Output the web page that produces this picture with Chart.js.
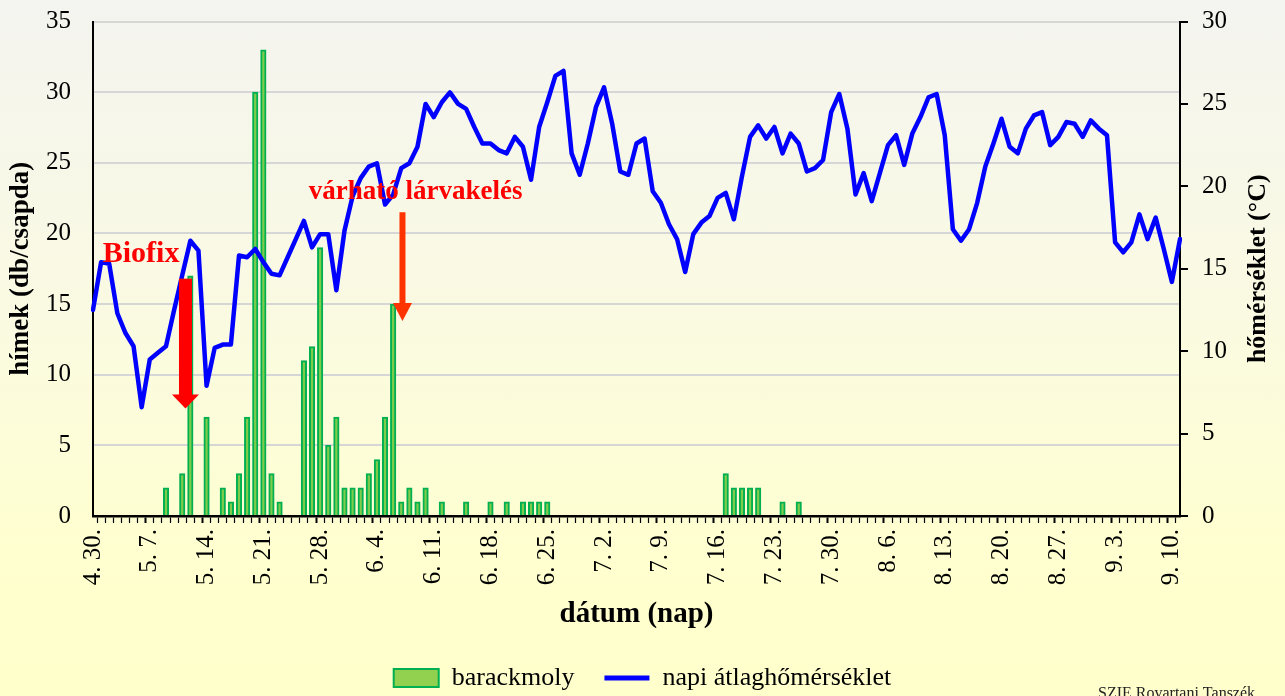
<!DOCTYPE html>
<html lang="hu">
<head>
<meta charset="UTF-8">
<title>Barackmoly rajzás</title>
<script src="https://cdn.jsdelivr.net/npm/chart.js"></script>
<style>
    html, body {
        margin: 0;
        padding: 0;
    }

    body {
        width: 1285px;
        height: 696px;
        overflow: hidden;
        background: linear-gradient(to bottom, #f4f4f0 0%, #fafae2 45%, #ffffcf 80%, #ffffcc 100%);
    }

    #chart-container {
        width: 1285px;
        height: 696px;
    }
</style>
</head>
<body>
<div id="chart-container">
    <canvas id="chart"></canvas>
</div>

<script>
    // napok 4.30. - 9.11.
    const monthRanges = [[4, 30, 30], [5, 1, 31], [6, 1, 30], [7, 1, 31], [8, 1, 31], [9, 1, 11]];
    const dates = [];
    monthRanges.forEach(([m, from, to]) => {
        for (let d = from; d <= to; d++) dates.push(m + '. ' + d + '.');
    });

    // barackmoly fogások (csak a nem nulla napok)
    const catchDates = ['5. 9.', '5. 11.', '5. 12.', '5. 14.', '5. 16.', '5. 17.', '5. 18.', '5. 19.', '5. 20.', '5. 21.',
        '5. 22.', '5. 23.', '5. 26.', '5. 27.', '5. 28.', '5. 29.', '5. 30.', '5. 31.', '6. 1.', '6. 2.',
        '6. 3.', '6. 4.', '6. 5.', '6. 6.', '6. 7.', '6. 8.', '6. 9.', '6. 10.', '6. 12.', '6. 15.',
        '6. 18.', '6. 20.', '6. 22.', '6. 23.', '6. 24.', '6. 25.',
        '7. 17.', '7. 18.', '7. 19.', '7. 20.', '7. 21.', '7. 24.', '7. 26.'];
    const catchCounts = [2, 3, 17, 7, 2, 1, 3, 7, 30, 33,
        3, 1, 11, 12, 19, 5, 7, 2, 2, 2,
        3, 4, 7, 15, 1, 2, 1, 2, 1, 1,
        1, 1, 1, 1, 1, 1,
        3, 2, 2, 2, 2, 1, 1];

    // napi átlaghőmérséklet (°C), 4.30. - 9.11.
    const temps = [12.5, 15.4, 15.3, 12.3, 11.1, 10.3, 6.6, 9.5, 9.9, 10.3,
        12.5, 14.6, 16.7, 16.1, 7.9, 10.2, 10.4, 10.4, 15.8, 15.7,
        16.2, 15.4, 14.7, 14.6, 15.7, 16.8, 17.9, 16.3, 17.1, 17.1,
        13.7, 17.3, 19.4, 20.5, 21.2, 21.4, 18.9, 19.5, 21.1, 21.4,
        22.4, 25.0, 24.2, 25.1, 25.7, 25.0, 24.7, 23.6, 22.6, 22.6,
        22.2, 22.0, 23.0, 22.4, 20.4, 23.6, 25.1, 26.7, 27.0, 22.0,
        20.7, 22.6, 24.8, 26.0, 23.8, 20.9, 20.7, 22.6, 22.9, 19.7,
        19.0, 17.7, 16.8, 14.8, 17.1, 17.8, 18.2, 19.3, 19.6, 18.0,
        20.6, 23.0, 23.7, 22.9, 23.6, 22.0, 23.2, 22.6, 20.9, 21.1,
        21.6, 24.5, 25.6, 23.5, 19.5, 20.8, 19.1, 20.8, 22.5, 23.1,
        21.3, 23.2, 24.2, 25.4, 25.6, 23.1, 17.4, 16.7, 17.4, 19.0,
        21.2, 22.6, 24.1, 22.4, 22.0, 23.5, 24.3, 24.5, 22.5, 23.0,
        23.9, 23.8, 23.0, 24.0, 23.5, 23.1, 16.6, 16.0, 16.6, 18.3,
        16.8, 18.1, 16.2, 14.2, 16.8];

    const serif = '"Liberation Serif", "Times New Roman", serif';
    Chart.defaults.font.family = serif;
    Chart.defaults.color = '#000';

    // nyíl rajzolása (függőleges, lefelé mutat)
    function drawArrow(ctx, cx, yTop, yTip, shaftW, headW, headH, color) {
        ctx.fillStyle = color;
        ctx.fillRect(cx - shaftW / 2, yTop, shaftW, yTip - headH - yTop + 1);
        ctx.beginPath();
        ctx.moveTo(cx - headW / 2, yTip - headH);
        ctx.lineTo(cx + headW / 2, yTip - headH);
        ctx.lineTo(cx, yTip);
        ctx.closePath();
        ctx.fill();
    }

    // feliratok, nyilak, jobb oldali tengelycím
    const notes = {
        id: 'notes',
        afterDatasetsDraw(chart) {
            const {ctx, chartArea} = chart;
            const x = chart.scales.x, y = chart.scales.y;
            ctx.save();

            drawArrow(ctx, x.getPixelForValue(11.4), y.getPixelForValue(16.8), y.getPixelForValue(7.6), 13, 27, 14, '#ff0000');
            drawArrow(ctx, x.getPixelForValue(38.15), y.getPixelForValue(21.5), y.getPixelForValue(13.8), 6, 19, 18, '#ff3300');

            ctx.fillStyle = '#ff0000';
            ctx.textBaseline = 'alphabetic';
            ctx.textAlign = 'left';
            ctx.font = 'bold 30px ' + serif;
            ctx.fillText('Biofix', x.getPixelForValue(1.2), y.getPixelForValue(17.96));
            ctx.font = 'bold 27px ' + serif;
            ctx.fillText('várható lárvakelés', x.getPixelForValue(26.6), y.getPixelForValue(22.46));

            // jobb tengely címe, alulról felfelé olvasva
            ctx.fillStyle = '#000';
            ctx.font = 'bold 26px ' + serif;
            ctx.translate(chartArea.right + 78, (chartArea.top + chartArea.bottom) / 2);
            ctx.rotate(-Math.PI / 2);
            ctx.textAlign = 'center';
            ctx.textBaseline = 'middle';
            ctx.fillText('hőmérséklet (°C)', 0, 0);
            ctx.restore();

            ctx.save();
            ctx.fillStyle = '#222';
            ctx.font = '16px ' + serif;
            ctx.textBaseline = 'top';
            ctx.fillText('SZIE Rovartani Tanszék', 1098, 686);
            ctx.restore();
        }
    };

    const ctx = document.getElementById('chart').getContext('2d');
    new Chart(ctx, {
        data: {
            labels: dates,
            datasets: [{
                type: 'bar',
                label: 'barackmoly',
                data: catchDates.map((d, i) => ({x: d, y: catchCounts[i]})),
                backgroundColor: '#7fcc4c',
                borderColor: '#00b050',
                borderWidth: 2,
                barThickness: 5.5,
                yAxisID: 'y',
                order: 2
            }, {
                type: 'line',
                label: 'napi átlaghőmérséklet',
                data: temps,
                borderColor: '#0000ff',
                backgroundColor: '#0000ff',
                borderWidth: 4.5,
                borderJoinStyle: 'round',
                borderCapStyle: 'round',
                pointRadius: 0,
                tension: 0,
                yAxisID: 'y1',
                order: 1
            }]
        },
        options: {
            responsive: true,
            maintainAspectRatio: false,
            animation: false,
            layout: {padding: {top: 21.5, left: 0, right: 0, bottom: 0}},
            plugins: {
                tooltip: {enabled: false},
                legend: {
                    position: 'bottom',
                    maxHeight: 61,
                    labels: {
                        font: {size: 26},
                        color: '#000',
                        padding: 30,
                        usePointStyle: true,
                        pointStyleWidth: 45,
                        boxHeight: 18,
                        generateLabels(chart) {
                            return chart.data.datasets.map((ds, i) => ({
                                text: ds.label,
                                fillStyle: i === 0 ? '#92d050' : '#0000ff',
                                strokeStyle: i === 0 ? '#00b050' : '#0000ff',
                                lineWidth: i === 0 ? 2 : 5,
                                pointStyle: i === 0 ? 'rect' : 'line',
                                fontColor: '#000',
                                datasetIndex: i,
                                hidden: false
                            }));
                        }
                    }
                }
            },
            scales: {
                x: {
                    type: 'category',
                    offset: false,
                    grid: {
                        drawOnChartArea: false,
                        color: '#000',
                        tickLength: 7,
                        tickWidth: c => (c.index % 7 === 0 ? 2 : 1.2)
                    },
                    border: {color: '#000', width: 2.5},
                    ticks: {
                        autoSkip: false,
                        maxRotation: 90,
                        minRotation: 90,
                        padding: 6,
                        font: {size: 25},
                        callback: (v, i) => (i % 7 === 0 ? dates[i] : '')
                    },
                    title: {
                        display: true,
                        text: 'dátum (nap)',
                        font: {size: 29, weight: 'bold'},
                        padding: {top: 0, bottom: 3}
                    },
                    afterFit(s) { s.height = 119; }
                },
                y: {
                    position: 'left',
                    min: 0,
                    max: 35,
                    ticks: {stepSize: 5, padding: 22, font: {size: 25}},
                    grid: {color: '#d6d6d6', lineWidth: 2, drawTicks: false},
                    border: {color: '#000', width: 2},
                    title: {
                        display: true,
                        text: 'hímek (db/csapda)',
                        font: {size: 27, weight: 'bold'},
                        padding: {top: 5, bottom: 0}
                    },
                    afterFit(s) {
                        s.width = 93;
                        s.paddingTop = 0;
                        s.paddingBottom = 0;
                    }
                },
                y1: {
                    position: 'right',
                    min: 0,
                    max: 30,
                    ticks: {stepSize: 5, padding: 14, font: {size: 25}},
                    grid: {drawOnChartArea: false, color: '#000', tickLength: 8, lineWidth: 2},
                    border: {color: '#000', width: 2},
                    afterFit(s) {
                        s.width = 105;
                        s.paddingTop = 0;
                        s.paddingBottom = 0;
                    }
                }
            }
        },
        plugins: [notes]
    });
</script>
</body>
</html>
